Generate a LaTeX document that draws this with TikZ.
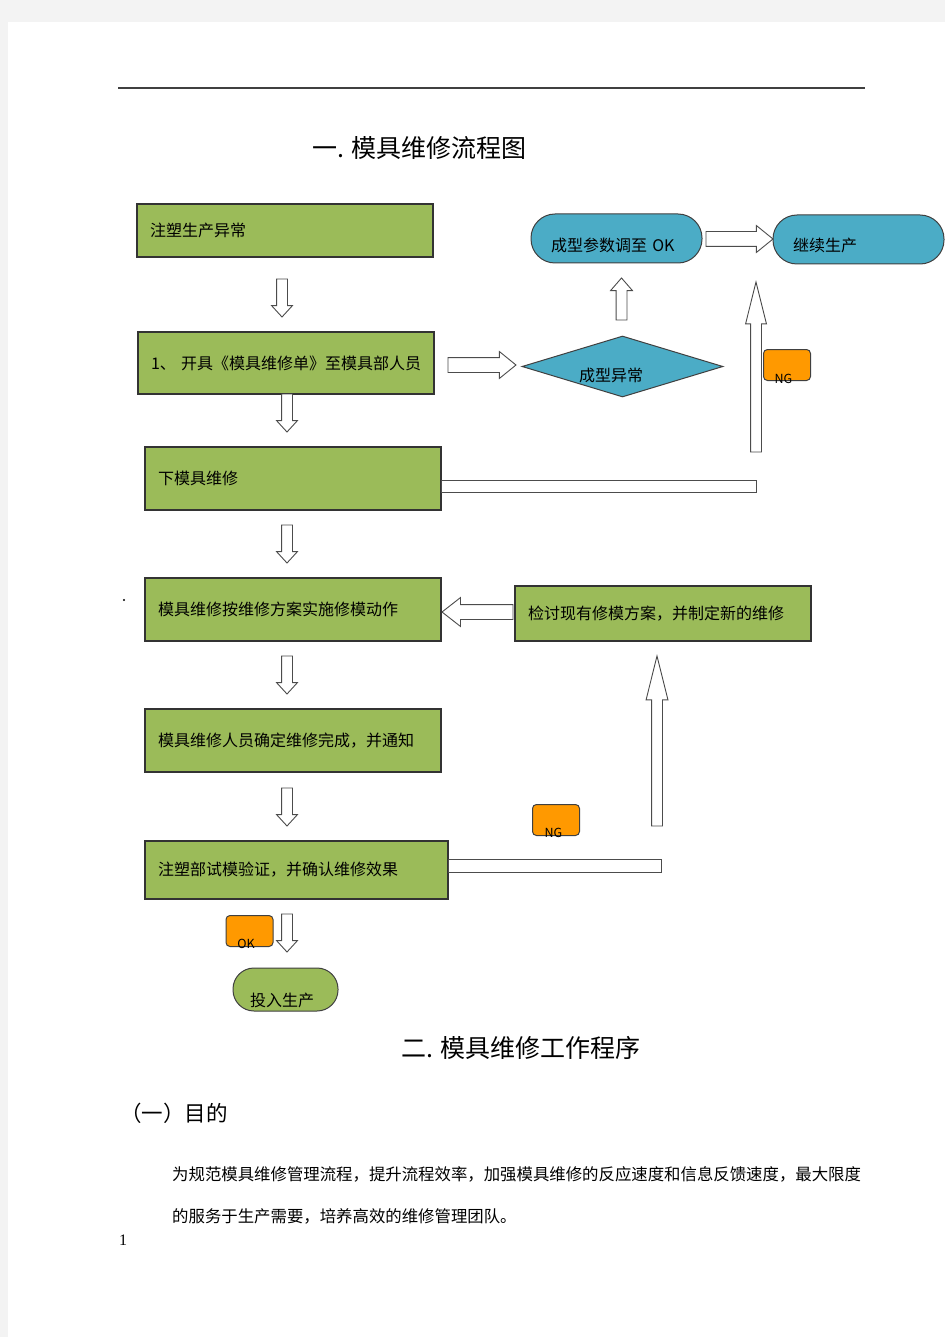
\documentclass[tikz,border=0pt]{standalone}
\usepackage{fontspec}
\setmainfont{Noto Sans CJK SC}
\newfontfamily\numfont{Liberation Serif}
\usepackage{tikz}
\usetikzlibrary{shapes.geometric,shapes.arrows}
\definecolor{boxgreen}{HTML}{9BBB59}
\definecolor{pillblue}{HTML}{4BACC6}
\definecolor{tagorange}{HTML}{FF9900}
\definecolor{pagegray}{HTML}{F3F3F3}

\begin{document}
\begin{tikzpicture}[x=1pt,y=-1pt,
  greenbox/.style={rectangle, draw=black!80, line width=1.2pt, fill=boxgreen, inner xsep=13pt, inner ysep=0pt, text width=270pt, align=left, font=\fontsize{16}{19}\selectfont},
  pill/.style={rectangle, rounded corners=24pt, draw=black!75, line width=1pt, fill=pillblue, minimum width=171pt, minimum height=49pt, inner sep=0pt, text width=131pt, align=left, text depth=0pt, font=\fontsize{16}{19}\selectfont},
  decision/.style={diamond, draw=black!75, line width=1pt, fill=pillblue, aspect=3.3, minimum width=201pt, minimum height=61pt, inner sep=0pt, text width=87pt, align=left, text height=29pt, text depth=0pt, font=\fontsize{16}{19}\selectfont},
  tag/.style={rectangle, rounded corners=4pt, draw=black!75, line width=1pt, fill=tagorange, minimum width=47pt, minimum height=31pt, inner sep=0pt},
  tagtext/.style={font=\fontsize{12.5}{12.5}\selectfont, inner sep=0pt, anchor=base},
  fatarrow/.style={single arrow, draw=black!70, line width=0.9pt, fill=white, inner xsep=0pt, outer sep=0pt, anchor=tail},
  downarrow/.style={fatarrow, rotate=-90, minimum height=38pt, inner ysep=5pt, single arrow head extend=5pt, single arrow tip angle=85},
  bar/.style={draw=black!70, line width=0.9pt, fill=white},
  heading/.style={anchor=west, inner sep=0pt, font=\fontsize{25}{28}\selectfont},
  bodytext/.style={anchor=west, inner sep=0pt, font=\fontsize{16.4}{19}\selectfont}]
  \useasboundingbox (0,0) rectangle (945,1337);
  % page
  \fill[pagegray] (0,0) rectangle (945,1337);
  \fill[white] (8,22) rectangle (945,1337);
  \draw[black!75, line width=1.3pt] (118,88) -- (865,88);

  \node[heading] (title1) at (312,148) {一. 模具维修流程图};

  % left column
  \node[greenbox, minimum height=53pt] (inject) at (285,230.5) {注塑生产异常};
  \node[greenbox, minimum height=62pt] (order) at (286,363) {1、~开具《模具维修单》至模具部人员};
  \node[greenbox, minimum height=63pt] (unload) at (293,478.5) {下模具维修};
  \node[greenbox, minimum height=63pt] (repair) at (293,609.5) {模具维修按维修方案实施修模动作};
  \node[greenbox, minimum height=63pt] (finish) at (293,740.5) {模具维修人员确定维修完成，并通知};
  \node[greenbox, minimum height=58pt, text width=277pt] (trial) at (296.5,870) {注塑部试模验证，并确认维修效果};
  \node[pill, fill=boxgreen, rounded corners=21pt, minimum width=105pt, minimum height=43pt, text width=71pt, text height=33pt] (produce) at (285.5,989.5) {投入生产};

  % right side
  \node[decision] (check) at (622.5,366.5) {成型异常};
  \node[pill, text height=27pt] (params) at (616.5,238.5) {成型参数调至 OK};
  \node[pill, text height=25pt] (resume) at (858.5,239.5) {继续生产};
  \node[greenbox, minimum height=55pt] (review) at (663,613.5) {检讨现有修模方案，并制定新的维修};

  \node[tag] (ng1) at (787,365) {};
  \node[tagtext] (ng1t) at ([xshift=-3.5pt,yshift=-2.5pt]ng1.south) {NG};
  \node[tag] (ng2) at (556,820) {};
  \node[tagtext] (ng2t) at ([xshift=-2.5pt,yshift=-1.5pt]ng2.south) {NG};
  \node[tag] (ok) at (249.5,931) {};
  \node[tagtext] (okt) at ([xshift=-3.5pt,yshift=-1.5pt]ok.south) {OK};

  \fill (124,600) circle (1.2pt);

  % arrows
  \foreach \n/\x/\y in {1/282/279, 2/287/394, 3/287/525, 4/287/656, 5/287/788, 6/287/914}
    \node[downarrow] (d\n) at (\x,\y) {};
  \node[fatarrow, minimum height=68pt, inner ysep=7pt, single arrow head extend=6pt, single arrow tip angle=78] (r1) at (448,365) {};
  \node[fatarrow, rotate=90, minimum height=42pt, inner ysep=5pt, single arrow head extend=5.5pt, single arrow tip angle=82] (u1) at (621.5,320) {};
  \node[fatarrow, minimum height=67pt, inner ysep=7pt, single arrow head extend=6pt, single arrow tip angle=78] (r2) at (706,239) {};
  \node[fatarrow, rotate=90, minimum height=170pt, inner ysep=5pt, single arrow head extend=5pt, single arrow tip angle=28] (u2) at (756,452) {};
  \node[fatarrow, rotate=180, minimum height=71pt, inner ysep=7pt, single arrow head extend=7pt, single arrow tip angle=76] (l1) at (513,612) {};
  \node[fatarrow, rotate=90, minimum height=170pt, inner ysep=5pt, single arrow head extend=5.5pt, single arrow tip angle=28] (u3) at (657,826) {};
  \draw[bar] (unload.east |- 0,480) rectangle (u2.tail |- 0,492);
  \draw[bar] (trial.east |- 0,859) rectangle ([xshift=4pt]u3.tail |- 0,872);

  % text below
  \node[heading] (title2) at (401,1048) {二. 模具维修工作程序};
  \node[heading, font=\fontsize{21.5}{24}\selectfont] (aim) at (120,1113) {（一）目的};
  \node[bodytext] (line1) at (172,1174) {为规范模具维修管理流程，提升流程效率，加强模具维修的反应速度和信息反馈速度，最大限度};
  \node[bodytext] (line2) at (172,1216) {的服务于生产需要，培养高效的维修管理团队。};
  \node[inner sep=0pt, font=\numfont\fontsize{16}{16}\selectfont] (pageno) at (123,1240) {1};
\end{tikzpicture}
\end{document}
